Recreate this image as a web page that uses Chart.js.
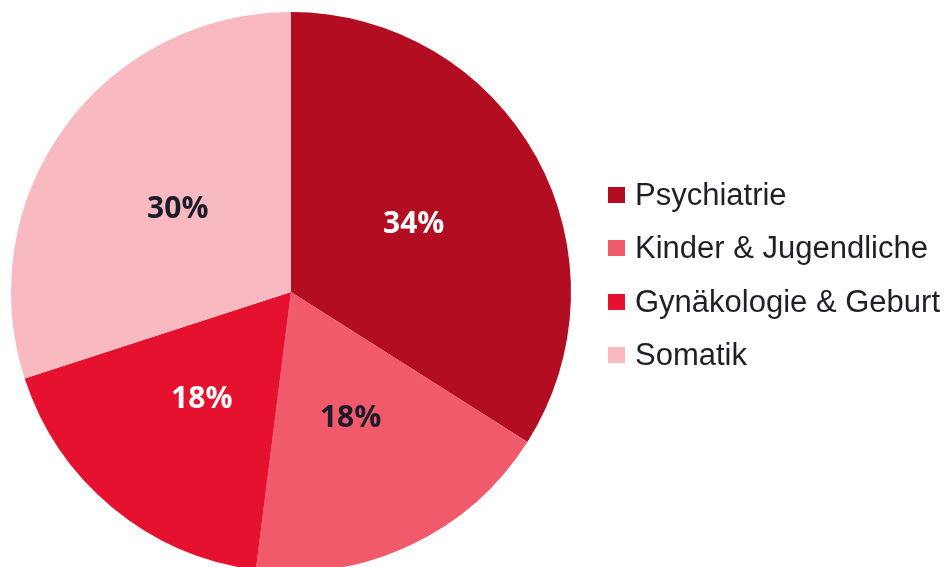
<!DOCTYPE html>
<html>
<head>
<meta charset="utf-8">
<script src="https://cdn.jsdelivr.net/npm/chart.js@4/dist/chart.umd.min.js"></script>
<style>
  html, body { margin: 0; padding: 0; background: #fff; }
  #wrap { position: relative; width: 945px; height: 567px; overflow: hidden; }
  #legend { position: absolute; left: 608px; top: 168px; font-family: "Liberation Sans", Arial, sans-serif; font-size: 31px; color: #1f1f29; }
  #legend .row { height: 53.5px; display: flex; align-items: center; white-space: nowrap; }
  #legend .box { width: 17px; height: 16px; margin-right: 10px; flex: none; }
</style>
</head>
<body>
<div id="wrap">
  <canvas id="pie" width="945" height="584"></canvas>
  <div id="legend"></div>
</div>
<script>
const categories = ['Psychiatrie', 'Kinder & Jugendliche', 'Gynäkologie & Geburt', 'Somatik']
const shares = [34, 18, 18, 30]
const colors = ['#B30D22', '#F05A6B', '#E5112E', '#F8B9C1']
const labelColors = ['#ffffff', '#1b1b2b', '#ffffff', '#1b1b2b']

// percent labels at the middle of each slice
const sliceLabels = {
    id: 'sliceLabels',
    afterDatasetsDraw(chart) {
        const ctx = chart.ctx
        const meta = chart.getDatasetMeta(0)
        ctx.save()
        ctx.font = 'bold 30px "Open Sans", sans-serif'
        ctx.textAlign = 'center'
        ctx.textBaseline = 'middle'
        meta.data.forEach((arc, i) => {
            let p = arc.tooltipPosition()
            ctx.fillStyle = labelColors[i]
            ctx.fillText(shares[i] + '%', p.x, p.y)
        })
        ctx.restore()
    }
}

new Chart(document.getElementById('pie'), {
    type: 'pie',
    data: {
        labels: categories,
        datasets: [{
            data: shares,
            backgroundColor: colors,
            borderWidth: 0
        }]
    },
    options: {
        responsive: false,
        animation: false,
        layout: { padding: { left: 11, right: 374, top: 12, bottom: 12 } },
        plugins: {
            legend: { display: false },
            tooltip: { enabled: false }
        }
    },
    plugins: [sliceLabels]
})

const legend = document.getElementById('legend')
categories.forEach((c, i) => {
    let row = document.createElement('div')
    row.className = 'row'
    row.innerHTML = '<span class="box" style="background:' + colors[i] + '"></span><span>' + c + '</span>'
    legend.appendChild(row)
})
</script>
</body>
</html>
